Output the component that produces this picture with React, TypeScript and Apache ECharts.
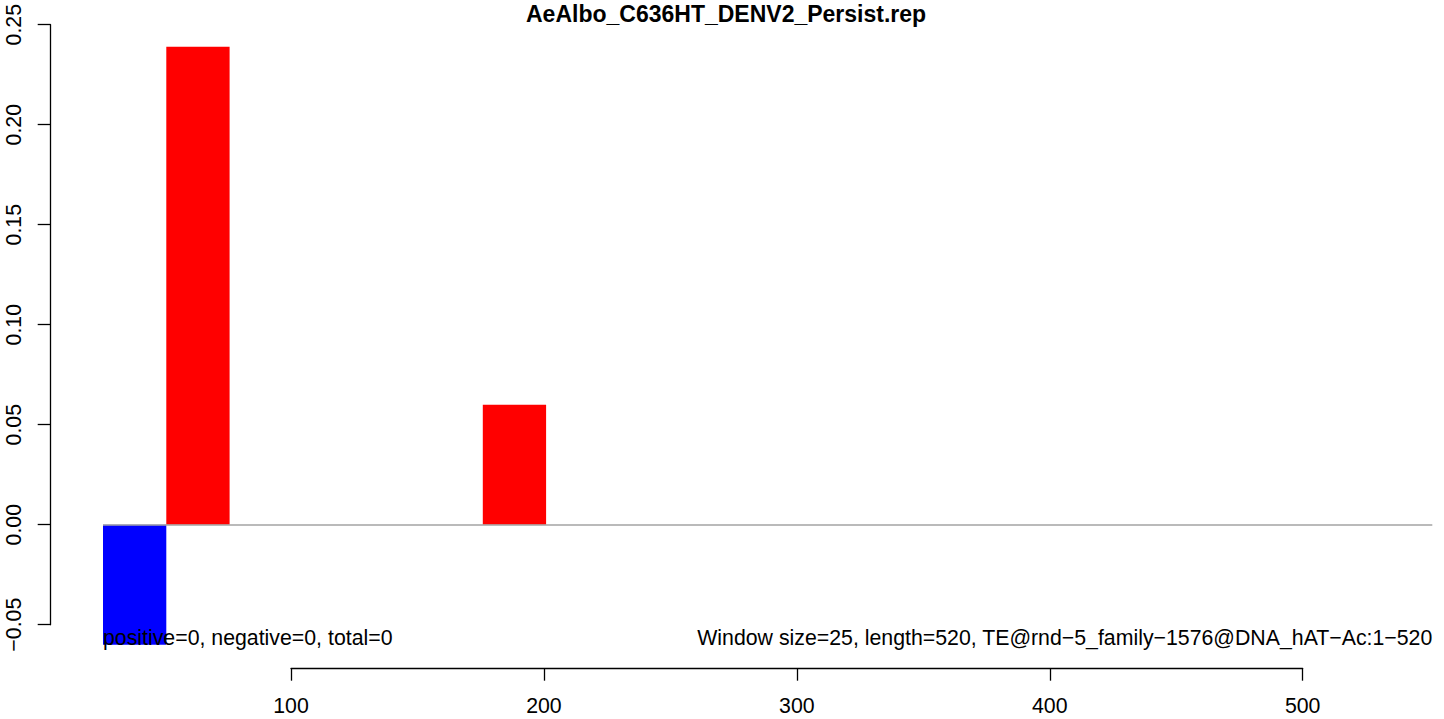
import React, { useEffect, useRef } from 'react';
import * as echarts from 'echarts';

const TITLE = 'AeAlbo_C636HT_DENV2_Persist.rep';
const LEFT_NOTE = 'positive=0, negative=0, total=0';
const RIGHT_NOTE = 'Window size=25, length=520, TE@rnd\u22125_family\u22121576@DNA_hAT\u2212Ac:1\u2212520';

const windowStarts = ['25', '50', '75', '100', '125', '150', '175', '200', '225', '250', '275', '300', '325', '350', '375', '400', '425', '450', '475', '500', '525'];
const positiveValues = [0, 0.239, 0, 0, 0, 0, 0.06, 0, 0, 0, 0, 0, 0, 0, 0, 0, 0, 0, 0, 0, 0];
const negativeValues = [-0.06, 0, 0, 0, 0, 0, 0, 0, 0, 0, 0, 0, 0, 0, 0, 0, 0, 0, 0, 0, 0];

const Y_MIN = -0.05;
const Y_MAX = 0.25;
const Y_STEP = 0.05;
const X_MIN = 100;
const X_MAX = 500;
const X_STEP = 100;

const FONT = '"Liberation Sans", Arial, Helvetica, sans-serif';
const FS = 21.3;

export default function App() {
  const ref = useRef<HTMLDivElement>(null);
  useEffect(() => {
    document.body.style.margin = '0';
    if (!ref.current) return;
    const chart = echarts.init(ref.current, undefined, { renderer: 'svg' });
    const axisColor = '#000';
    chart.setOption({
      animation: false,
      backgroundColor: '#fff',
      textStyle: { fontFamily: FONT },
      grid: [
        { left: 103, right: 11.7, top: 24.7, height: 600, containLabel: false },
        { left: 291, right: 141.3, top: 24.7, height: 600, containLabel: false },
      ],
      xAxis: [
        { type: 'category', gridIndex: 0, data: windowStarts, show: false, boundaryGap: true },
        {
          type: 'value', gridIndex: 1, min: X_MIN, max: X_MAX, interval: X_STEP,
          position: 'bottom', offset: 44,
          axisLine: { show: true, onZero: false, lineStyle: { color: axisColor, width: 1.3 } },
          axisTick: { show: true, length: 12, lineStyle: { color: axisColor, width: 1.3 } },
          axisLabel: { margin: 27, fontSize: FS, color: '#000', fontFamily: FONT },
          splitLine: { show: false },
        },
      ],
      yAxis: [
        {
          type: 'value', gridIndex: 0, min: Y_MIN, max: Y_MAX, interval: Y_STEP, offset: 52.3,
          axisLine: { show: true, onZero: false, lineStyle: { color: axisColor, width: 1.3 } },
          axisTick: { show: true, length: 13, lineStyle: { color: axisColor, width: 1.3 } },
          axisLabel: {
            rotate: 90, margin: 26, fontSize: FS, color: '#000', fontFamily: FONT,
            formatter: (v: number) => (v < -1e-9 ? '\u2212' : '') + Math.abs(v).toFixed(2),
          },
          splitLine: { show: false },
        },
        { type: 'value', gridIndex: 1, show: false, min: Y_MIN, max: Y_MAX },
      ],
      series: [
        {
          name: 'positive', type: 'bar', xAxisIndex: 0, yAxisIndex: 0,
          data: positiveValues, barWidth: '100%', barGap: '-100%', clip: false,
          itemStyle: { color: '#ff0000' },
          markLine: {
            silent: true, symbol: ['none', 'none'], label: { show: false },
            lineStyle: { color: '#a3a3a3', width: 1.6, type: 'solid' },
            data: [{ yAxis: 0 }],
          },
        },
        {
          name: 'negative', type: 'bar', xAxisIndex: 0, yAxisIndex: 0,
          data: negativeValues, barWidth: '100%', barGap: '-100%', clip: false,
          itemStyle: { color: '#0000ff' },
        },
      ],
      graphic: [
        {
          type: 'text', x: 526, y: 13.5,
          style: { text: TITLE, font: `bold 23px ${FONT}`, fill: '#000', align: 'left', verticalAlign: 'middle' },
        },
        {
          type: 'text', x: 103, y: 637.5, z: 10,
          style: { text: LEFT_NOTE, font: `${FS}px ${FONT}`, fill: '#000', align: 'left', verticalAlign: 'middle' },
        },
        {
          type: 'text', x: 1432.3, y: 637.5, z: 10,
          style: { text: RIGHT_NOTE, font: `${FS}px ${FONT}`, fill: '#000', align: 'right', verticalAlign: 'middle' },
        },
      ],
    });
    return () => chart.dispose();
  }, []);
  return <div ref={ref} style={{ width: 1444, height: 719 }} />;
}
